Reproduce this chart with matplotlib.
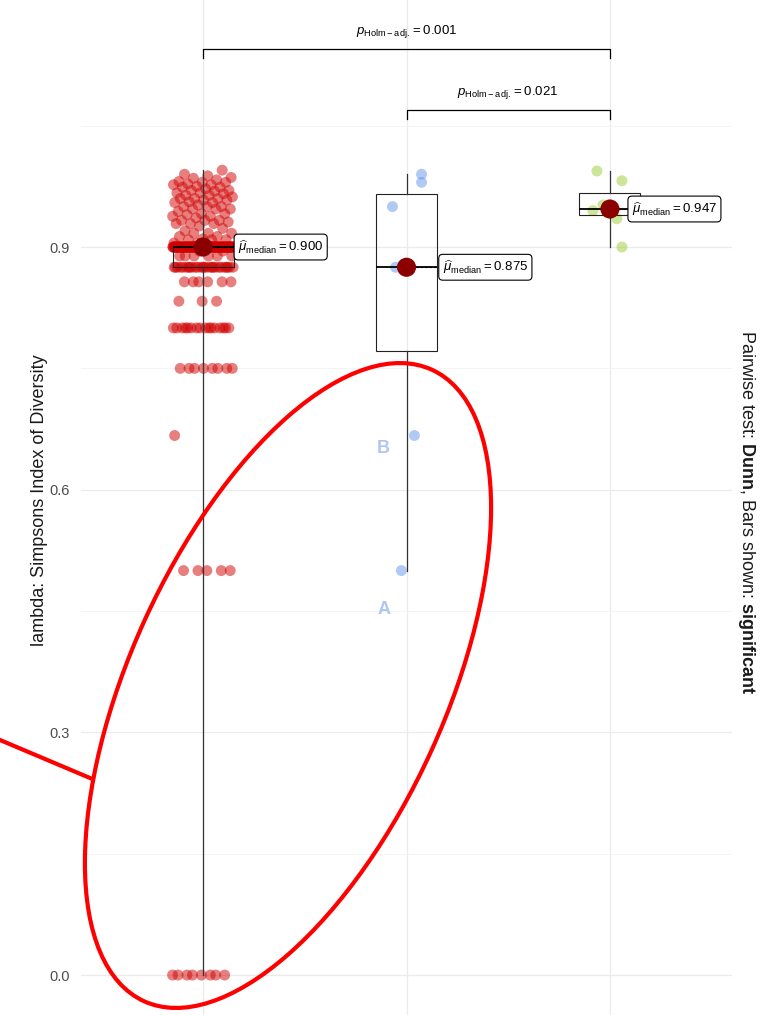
import numpy as np
import matplotlib
matplotlib.use("Agg")
import matplotlib.pyplot as plt
from matplotlib.patches import Ellipse

plt.rcParams['font.family'] = ['Liberation Sans', 'DejaVu Sans']
plt.rcParams['mathtext.fontset'] = 'custom'
plt.rcParams['mathtext.rm'] = 'Liberation Sans'
plt.rcParams['mathtext.it'] = 'Liberation Sans:italic'
plt.rcParams['mathtext.bf'] = 'Liberation Sans:bold'

# ---------------- data ----------------
groups = ["G1", "G2", "G3"]
red_values = [0.0, 0.5, 0.667, 0.75, 0.8, 0.833, 0.857, 0.875, 0.889, 0.895, 0.9,
              0.905, 0.909, 0.91, 0.913, 0.917, 0.92, 0.923, 0.926, 0.929, 0.931,
              0.933, 0.936, 0.938, 0.94, 0.941, 0.944, 0.947, 0.95, 0.952, 0.955,
              0.956, 0.958, 0.96, 0.962, 0.964, 0.966, 0.967, 0.969, 0.97, 0.972,
              0.974, 0.975, 0.977, 0.978, 0.98, 0.981, 0.983, 0.985, 0.986, 0.988,
              0.99, 0.995]
red_counts = [8, 5, 1, 8, 16, 3, 6, 26, 6, 2, 130,
              2, 3, 1, 2, 3, 1, 1, 1, 3, 1,
              3, 1, 2, 1, 2, 1, 3, 3, 1, 2,
              1, 2, 3, 1, 2, 1, 2, 1, 2, 1,
              2, 1, 2, 1, 2, 1, 1, 1, 1, 1,
              1, 1]
blue_values = [0.99, 0.98, 0.95, 0.875, 0.875, 0.667, 0.5]
green_values = [0.994, 0.982, 0.945, 0.952, 0.935, 0.9, 0.947]
p_labels = ["0.001", "0.021"]
y_ticks = [0.0, 0.3, 0.6, 0.9]

red = np.repeat(red_values, red_counts)
data = [red, np.array(blue_values), np.array(green_values)]

# ---------------- style ----------------
colors = ["#D00000", "cornflowerblue", "yellowgreen"]
blue_jit = [0.074, 0.074, -0.069, -0.054, 0.0, 0.039, -0.025]
green_jit = [-0.064, 0.059, -0.084, -0.034, 0.034, 0.059, 0.015]
label_x = [1.172, 2.178, 3.108]

W, H = 766, 1015
fig = plt.figure(figsize=(W / 100, H / 100), dpi=100)
ax = fig.add_axes([81 / W, 0, (732 - 81) / W, 1])
ax.set_xlim(0.4, 3.6)
ax.set_ylim(-0.0494, 1.2054)

for s in ax.spines.values():
    s.set_visible(False)
ax.set_yticks(y_ticks)
ax.set_yticklabels([f"{v:.1f}" for v in y_ticks])
ax.set_yticks([0.15, 0.45, 0.75, 1.05], minor=True)
ax.set_xticks([1, 2, 3])
ax.set_xticklabels([])
ax.tick_params(axis='both', which='both', length=0)
ax.tick_params(axis='y', labelsize=10.5, labelcolor='#4D4D4D', pad=8)
ax.grid(True, which='major', color='#EBEBEB', lw=0.9)
ax.grid(True, which='minor', axis='y', color='#F3F3F3', lw=0.6)
ax.set_axisbelow(True)

# jittered points
offs = []
for i in range(len(red)):
    offs.append(((i * 0.6180339887) % 1 - 0.5) * 0.30)
ax.scatter(1 + np.array(offs), red, s=62, color=colors[0], alpha=0.5,
           edgecolors='none', zorder=2)
ax.scatter(2 + np.array(blue_jit), data[1], s=62, color=colors[1], alpha=0.5,
           edgecolors='none', zorder=2)
ax.scatter(3 + np.array(green_jit), data[2], s=62, color=colors[2], alpha=0.5,
           edgecolors='none', zorder=2)

# boxplots
bp = ax.boxplot(data, positions=[1, 2, 3], widths=0.3, whis=(0, 100),
                showfliers=False, patch_artist=True, manage_ticks=False, zorder=3)
for b in bp['boxes']:
    b.set_facecolor('none')
    b.set_edgecolor('#222222')
    b.set_linewidth(0.8)
for w in bp['whiskers']:
    w.set_color('#333333')
    w.set_linewidth(0.9)
for c in bp['caps']:
    c.set_visible(False)
for m in bp['medians']:
    m.set_color('black')
    m.set_linewidth(1.3)

# median points and labels
for i, d in enumerate(data):
    med = np.median(d)
    ax.scatter([i + 1], [med], s=190, color='#8B0000', zorder=5, edgecolors='none')
    ax.plot([i + 1, label_x[i]], [med, med], ls=(0, (2, 2)), color='black',
            lw=0.8, zorder=4)
    ax.text(label_x[i], med, r'$\widehat{\mu}_{\mathrm{median}}=' + f'{med:.3f}' + '$',
            ha='left', va='center', fontsize=9.5, zorder=6,
            bbox=dict(boxstyle='round,pad=0.3', fc='white', ec='black', lw=0.8))

# significance brackets
brackets = [(1, 3, 1.1448, 1.1336, 1.167, p_labels[0]),
            (2, 3, 1.0694, 1.0582, 1.0916, p_labels[1])]
for x1, x2, yb, yt, ytxt, lab in brackets:
    ax.plot([x1, x1, x2, x2], [yt, yb, yb, yt], color='black', lw=0.9)
    ax.text((x1 + x2) / 2, ytxt, r'$p_{\mathrm{Holm-adj.}}=' + lab + '$',
            ha='center', va='center', fontsize=9.5)

# axis labels
fig.text(40 / W, 1 - 500 / H, 'lambda: Simpsons Index of Diversity', rotation=90,
         ha='center', va='center', fontsize=13, color='#1A1A1A')
fig.text(746 / W, 1 - 512 / H,
         r'Pairwise test: $\bf{Dunn}$, Bars shown: $\bf{significant}$',
         rotation=270, ha='center', va='center', fontsize=13, color='#1A1A1A')

# letters
ax.text(2 - 23 / 203.5, 0.9 - (448 - 247) / 808.9, 'B', color='#AFC5F2',
        fontsize=13, fontweight='bold', ha='center', va='center')
ax.text(2 - 22 / 203.5, 0.9 - (609 - 247) / 808.9, 'A', color='#AFC5F2',
        fontsize=13, fontweight='bold', ha='center', va='center')

# red ellipse overlay
ov = fig.add_axes([0, 0, 1, 1], facecolor='none')
ov.set_xlim(0, W)
ov.set_ylim(0, H)
ov.axis('off')
ov.add_patch(Ellipse((288, H - 685.5), 694, 315, angle=65.5, fill=False,
                     ec='#FF0000', lw=3))
ov.plot([0, 90], [H - 740, H - 778], color='#FF0000', lw=3)

fig.savefig('out.png', dpi=100)
